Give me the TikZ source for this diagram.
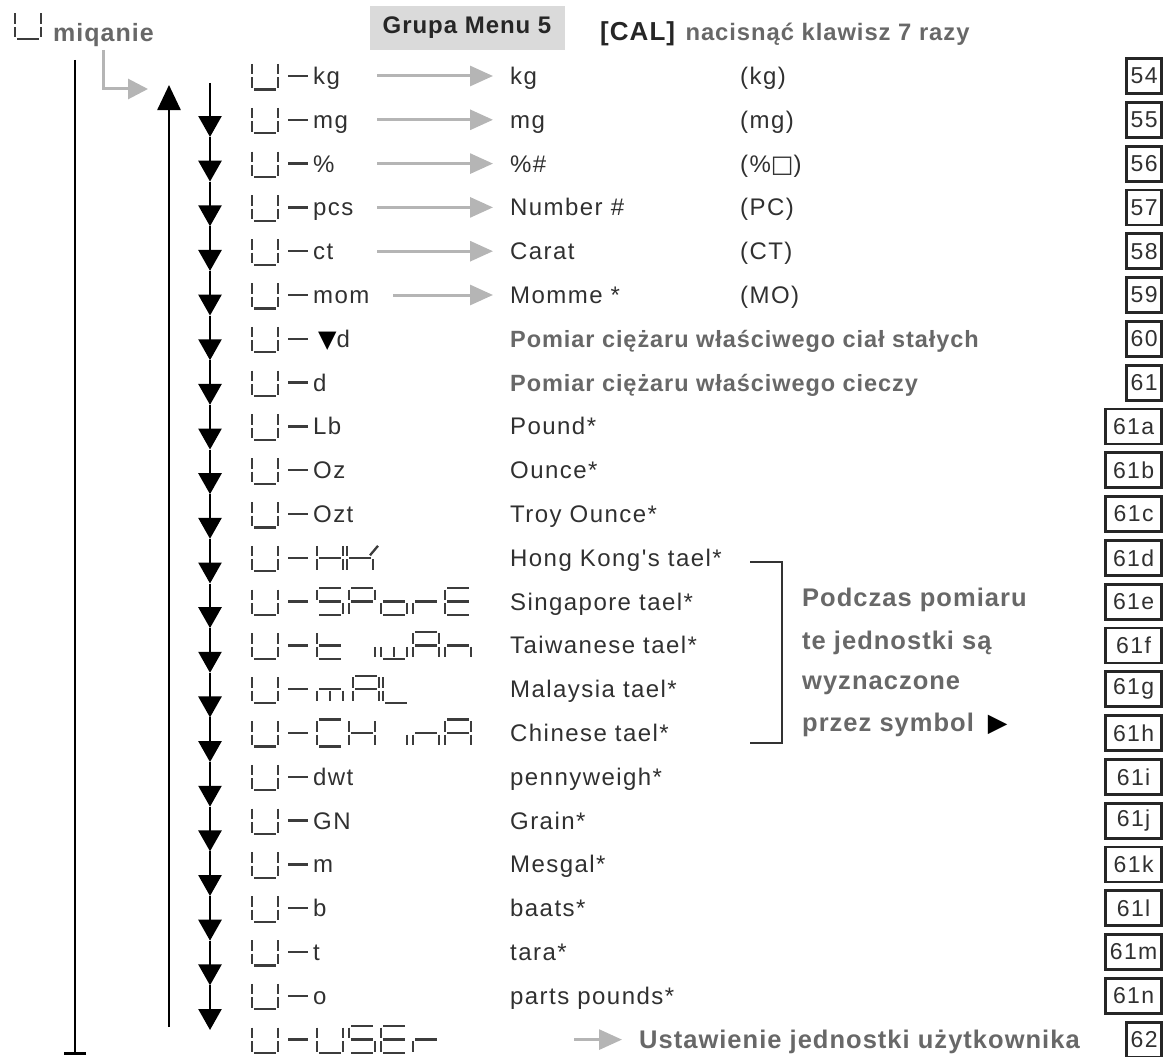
\documentclass[tikz,border=0pt]{standalone}
\usepackage{fontspec}
\setmainfont{Liberation Sans}
\newfontfamily\spacedfont{Liberation Sans}[LetterSpace=4]
\newfontfamily\unitfont{Liberation Sans}[LetterSpace=6]
\newfontfamily\symfont{DejaVu Sans}
\usetikzlibrary{arrows.meta, positioning, calc}
\definecolor{inkgray}{HTML}{686868}
\definecolor{arrowgray}{HTML}{B5B5B5}
\definecolor{textdark}{HTML}{303030}
\definecolor{segdark}{HTML}{3C3C3C}
\definecolor{menugray}{HTML}{DADADA}
\newcommand{\rowy}[1]{\pgfmathsetmacro\ry{76+43.8*#1}}
\newcommand{\lcdchar}[3]{\pgfmathsetmacro\lcdtop{62.5+43.8*#2}%
  \foreach \s in {#3}{\pic at (#1,\lcdtop) {seg\s};}}

\begin{document}
\begin{tikzpicture}[x=1pt, y=-1pt, font=\fontsize{24}{28}\selectfont\unitfont,
  seg/.style={line width=2.3pt, draw=segdark},
  sega/.pic={\draw[seg] (2,0) -- (24,0);},
  segb/.pic={\draw[seg] (26,1.5) -- (26,12);},
  segc/.pic={\draw[seg] (26,15) -- (26,25.5);},
  segd/.pic={\draw[seg] (2,27) -- (24,27);},
  sege/.pic={\draw[seg] (0,15) -- (0,25.5);},
  segf/.pic={\draw[seg] (0,1.5) -- (0,12);},
  segg/.pic={\draw[seg] (2,13.5) -- (24,13.5);},
  segm/.pic={\draw[seg] (13,15) -- (13,25.5);},
  segk/.pic={\draw[seg] (23,11) -- (31,1.5);},
  unit/.style={anchor=base west, inner sep=0pt, text=textdark},
  boldgray/.style={anchor=base west, inner sep=0pt, text=inkgray,
                   font=\fontsize{#1}{#1}\selectfont\spacedfont\bfseries},
  boldgray/.default=23.5,
  numbox/.style={draw=black!85, line width=2.8pt, inner sep=0pt, minimum height=35pt,
                 minimum width=#1, anchor=east, text=textdark, font=\fontsize{23}{26}\selectfont\unitfont},
  garrow/.style={draw=arrowgray, line width=3pt, -{Triangle[width=20pt,length=23pt]}, shorten >=17pt},
  dnarrow/.style={line width=2.6pt, -{Triangle[width=23pt,length=21pt]}},
  uparrow/.style={line width=2.6pt, -{Triangle[width=23pt,length=25pt]}},
]
  \useasboundingbox (0,0) rectangle (1168,1057);

  % header
  \foreach \s in {f,b,e,c,d}{\pic at (15,12) {seg\s};}
  \node[boldgray=25] (blink) at (53,42) {miqanie};
  \node[fill=menugray, minimum width=195pt, minimum height=44pt, inner sep=0pt,
        font=\fontsize{24}{28}\selectfont\spacedfont\bfseries, text=black!85] (grp) at (467,28) {Grupa Menu 5};
  \node[anchor=base west, inner sep=0pt, font=\fontsize{26}{30}\selectfont\spacedfont\bfseries, text=black!85] (cal) at (600,41) {[CAL]};
  \node[boldgray=23.8, anchor=base west] (press) at ([xshift=10pt]cal.base east) {nacisnąć klawisz 7 razy};

  % cycle lines
  \coordinate (lt) at (75,60);
  \coordinate (lb) at (75,1055);
  \draw[line width=2.6pt, -{Bar[width=22pt]}] (lt) -- (lb);
  \coordinate (upb) at (169,1027);
  \coordinate (upt) at (169,85);
  \draw[uparrow] (upb) -- (upt);
  \coordinate (el1) at (103,50);
  \coordinate (el2) at (103,89);
  \coordinate (el3) at (148,89);
  \draw[draw=arrowgray, line width=3pt, -{Triangle[width=20pt,length=20pt]}] (el1) -- (el2) -- (el3);
  \coordinate (dn0) at (210,83);
  \foreach \k in {1,...,21}{\pgfmathsetmacro\ty{137+44.65*(\k-1)}\coordinate (dn\k) at (210,\ty);}
  \foreach \k [count=\j from 0] in {1,...,21}{\draw[dnarrow] (dn\j) -- (dn\k);}

  % display: U- on every row
  \foreach \i in {0,...,22}{
    \lcdchar{252}{\i}{f,b,e,c,d}
    \rowy{\i}
    \draw[seg] (288,\ry) -- (308,\ry);
  }
  % display texts
  \foreach \i/\t in {0/kg,1/mg,2/\%,3/pcs,4/ct,5/mom,6/{\hspace{5pt}{\symfont\color{black}▼}d},7/d,8/Lb,9/Oz,10/Ozt,
                     16/dwt,17/GN,18/m,19/b,20/t,21/o}{
    \rowy{\i}
    \node[unit] (u\i) at (313,\ry+8.5) {\t};
  }
  \lcdchar{317}{11}{f,b,e,c,g}   \lcdchar{347}{11}{f,e,g,c,k}
  \lcdchar{317}{12}{a,f,g,c,d}   \lcdchar{349}{12}{a,b,f,g,e}   \lcdchar{381}{12}{g,c,d,e}
  \lcdchar{413}{12}{g,e}         \lcdchar{445}{12}{a,f,g,e,d}
  \lcdchar{317}{13}{f,e,g,d}     \lcdchar{349}{13}{c}           \lcdchar{381}{13}{e,m,c,d}
  \lcdchar{413}{13}{a,b,c,e,f,g} \lcdchar{445}{13}{g,e,c}
  \lcdchar{317}{14}{g,e,m,c}     \lcdchar{353}{14}{a,b,c,e,f,g} \lcdchar{383}{14}{f,e,d}
  \lcdchar{317}{15}{a,f,e,d}     \lcdchar{349}{15}{f,b,e,c,g}   \lcdchar{381}{15}{c}
  \lcdchar{413}{15}{g,e,c}       \lcdchar{445}{15}{a,b,c,e,f,g}
  \lcdchar{317}{22}{f,b,e,c,d}   \lcdchar{349}{22}{a,f,g,c,d}   \lcdchar{381}{22}{a,f,g,e,d}
  \lcdchar{413}{22}{g,e}

  % unit names
  \foreach \i/\t in {0/kg,1/mg,2/\%\#,3/Number \#,4/Carat,5/Momme *,8/Pound*,9/Ounce*,10/Troy Ounce*,
                     11/Hong Kong's tael*,12/Singapore tael*,13/Taiwanese tael*,14/Malaysia tael*,
                     15/Chinese tael*,16/pennyweigh*,17/Grain*,18/Mesgal*,19/baats*,20/tara*,21/parts pounds*}{
    \rowy{\i}
    \node[unit] (r\i) at (510,\ry+8.5) {\t};
  }
  \rowy{6}  \node[boldgray] (r6) at (510,\ry+8.5) {Pomiar ciężaru właściwego ciał stałych};
  \rowy{7}  \node[boldgray] (r7) at (510,\ry+8.5) {Pomiar ciężaru właściwego cieczy};
  \rowy{22} \node[boldgray=25.5] (r22) at (639,\ry+9) {Ustawienie jednostki użytkownika};
  \foreach \i/\t in {0/(kg),1/(mg),2/(\%{\symfont□}),3/(PC),4/(CT),5/(MO)}{
    \rowy{\i}
    \node[unit] (p\i) at (740,\ry+8.5) {\t};
  }

  % grey arrows
  \foreach \i/\xs in {0/377,1/377,2/377,3/377,4/377,5/393,22/574}{
    \rowy{\i}
    \coordinate (gs\i) at (\xs,\ry);
    \draw[garrow] (gs\i) -- (gs\i -| r\i.west);
  }

  % bracket and note
  \coordinate (br1) at (750,562);
  \coordinate (br2) at (782,562);
  \coordinate (br3) at (782,743);
  \coordinate (br4) at (750,743);
  \draw[line width=2.8pt, draw=black!80] (br1) -- (br2) -- (br3) -- (br4);
  \node[boldgray=25.5] (nt1) at (802,606) {Podczas pomiaru};
  \node[boldgray=25.5] (nt2) at (802,649) {te jednostki są};
  \node[boldgray=25.5] (nt3) at (802,689) {wyznaczone};
  \node[boldgray=25.5] (nt4) at (802,731) {przez symbol\hspace{14pt}{\symfont\mdseries\color{black}▶}};

  % page references
  \foreach \i/\n/\w in {0/54/35,1/55/35,2/56/35,3/57/35,4/58/35,5/59/35,6/60/35,7/61/35,
                        8/61a/56,9/61b/56,10/61c/56,11/61d/56,12/61e/56,13/61f/56,14/61g/56,
                        15/61h/56,16/61i/56,17/61j/56,18/61k/56,19/61l/56,20/61m/56,21/61n/56,22/62/35}{
    \rowy{\i}
    \node[numbox=\w pt] (n\i) at (1163,\ry) {\n};
  }
\end{tikzpicture}
\end{document}
